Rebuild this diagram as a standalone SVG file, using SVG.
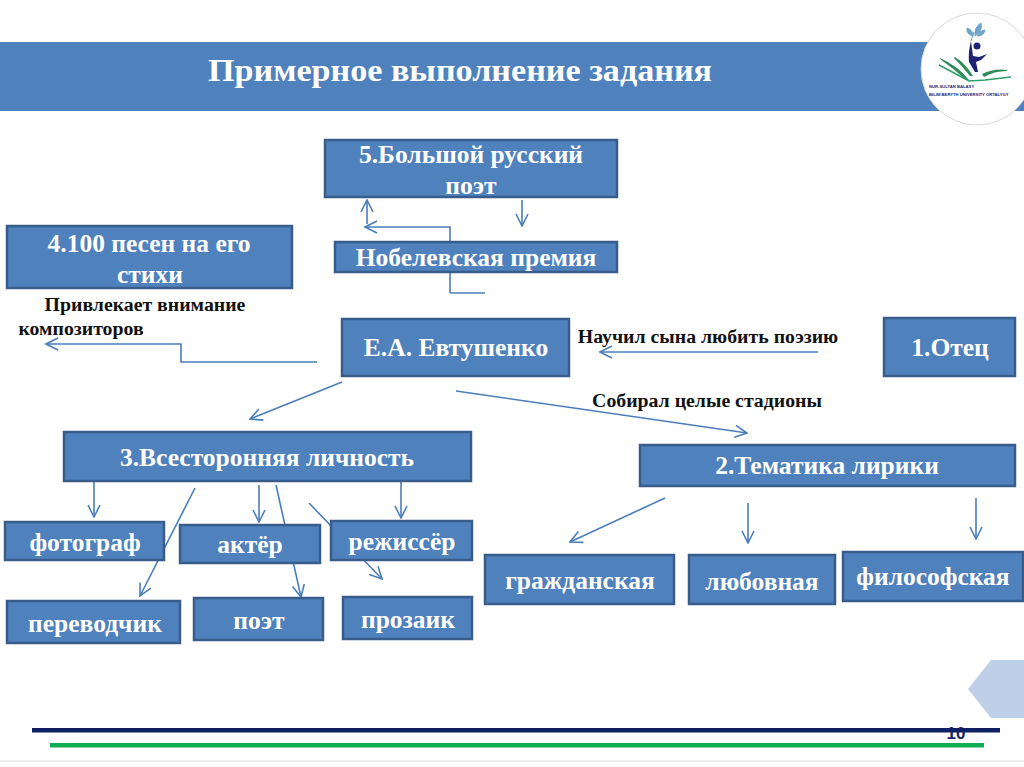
<svg xmlns="http://www.w3.org/2000/svg" width="1024" height="767" viewBox="0 0 1024 767">
<style>
.b{fill:#4f81bd;stroke:#385d8a;stroke-width:2.5}
text{font-family:"Liberation Serif","Times New Roman",serif;font-weight:bold;text-anchor:middle}
.w{fill:#fff;font-size:25.5px}
.k{fill:#111;font-size:19.8px}
.c{fill:none;stroke:#4a7ebb;stroke-width:1.6}
.l{font-family:"Liberation Sans",Arial,sans-serif;font-size:4.2px;fill:#1d2372;text-anchor:start}
</style>
<defs>
<marker id="a" viewBox="0 0 14 14" refX="13" refY="7" markerWidth="14" markerHeight="14" markerUnits="userSpaceOnUse" orient="auto"><path d="M1 1L13 7L1 13" fill="none" stroke="#4a7ebb" stroke-width="1.6"/></marker>
</defs>
<rect width="1024" height="767" fill="#fff"/>
<line x1="0" y1="761" x2="1024" y2="761" stroke="#dcdcdc" stroke-width="1"/>
<g id="header">
<rect x="0" y="42" width="1024" height="69" fill="#4f81bd"/>
<text x="460" y="81" font-size="31" fill="#fff" textLength="504" lengthAdjust="spacingAndGlyphs">Примерное выполнение задания</text>
</g>
<g id="logo">
<circle cx="977" cy="69" r="56" fill="#fff" stroke="#d8d8d8" stroke-width="1"/>
<path d="M971 41L974 32M973 36Q966 34 967 28Q973 30 973 36M975 36Q974 27 981 23Q983 31 975 36M977 36Q980 30 985 30Q984 36 977 36" fill="#6ea6c9" stroke="#6ea6c9" stroke-width="1"/>
<path d="M971 41L973 56L979 57L987 54L981 60L976 62L978 72L975 72L969 62Q968 52 971 41Z" fill="#1d2372"/>
<circle cx="977" cy="46" r="3.5" fill="#1d2372"/>
<path d="M940 58Q958 66 969 80L966 80Q953 68 940 59ZM955 57Q966 64 973 76L970 76Q962 66 954 58ZM982 74Q994 68 1007 70L1007 71Q994 71 984 77Z" fill="#2e8b57"/>
<path d="M939 65L969 81L985 80L1011 77" fill="none" stroke="#2e9b68" stroke-width="1.5"/>
<text class="l" x="929" y="88">NUR-SULTAN BALASY</text>
<text class="l" x="929" y="96">BILIM BERYTH UNIVERSITY ORTALYGY</text>
</g>
<g id="connectors">
<path class="c" d="M367 224V200" marker-end="url(#a)"/>
<path class="c" d="M450 293V227H365" marker-end="url(#a)"/>
<path class="c" d="M450 293H485"/>
<path class="c" d="M522 200V226" marker-end="url(#a)"/>
<path class="c" d="M317 362H181V344H46" marker-end="url(#a)"/>
<path class="c" d="M818 352H600" marker-end="url(#a)"/>
<path class="c" d="M342 382L250 419" marker-end="url(#a)"/>
<path class="c" d="M456 391L747 433" marker-end="url(#a)"/>
<path class="c" d="M94 482V517" marker-end="url(#a)"/>
<path class="c" d="M195 488L140 596" marker-end="url(#a)"/>
<path class="c" d="M259 485V522" marker-end="url(#a)"/>
<path class="c" d="M276 485L301 597" marker-end="url(#a)"/>
<path class="c" d="M309 503L382 579" marker-end="url(#a)"/>
<path class="c" d="M401 482V518" marker-end="url(#a)"/>
<path class="c" d="M665 498L570 542" marker-end="url(#a)"/>
<path class="c" d="M748 503V543" marker-end="url(#a)"/>
<path class="c" d="M976 498V539" marker-end="url(#a)"/>
</g>
<g id="n5"><rect class="b" x="325" y="140" width="292" height="57"/><text class="w" x="471" y="163">5.Большой русский</text><text class="w" x="471" y="194">поэт</text></g>
<g id="nobel"><rect class="b" x="335" y="242" width="282" height="30"/><text class="w" x="476" y="266">Нобелевская премия</text></g>
<g id="n4"><rect class="b" x="7" y="226" width="285" height="62"/><text class="w" x="149" y="252">4.100 песен на его</text><text class="w" x="150" y="283">стихи</text></g>
<g id="evt"><rect class="b" x="342" y="319" width="227" height="57"/><text class="w" x="456" y="356">Е.А. Евтушенко</text></g>
<g id="n1"><rect class="b" x="884" y="318" width="131" height="58"/><text class="w" x="950" y="356">1.Отец</text></g>
<g id="n3"><rect class="b" x="64" y="432" width="407" height="49"/><text class="w" x="267" y="466">3.Всесторонняя личность</text></g>
<g id="n2"><rect class="b" x="640" y="445" width="375" height="41"/><text class="w" x="827" y="474">2.Тематика лирики</text></g>
<g id="photo"><rect class="b" x="5" y="522" width="159" height="38"/><text class="w" x="85" y="551">фотограф</text></g>
<g id="actor"><rect class="b" x="180" y="525" width="140" height="38"/><text class="w" x="250" y="553">актёр</text></g>
<g id="director"><rect class="b" x="331" y="521" width="141" height="39"/><text class="w" x="402" y="550">режиссёр</text></g>
<g id="trans"><rect class="b" x="7" y="601" width="173" height="42"/><text class="w" x="95" y="632">переводчик</text></g>
<g id="poet"><rect class="b" x="194" y="598" width="129" height="42"/><text class="w" x="259" y="629">поэт</text></g>
<g id="prose"><rect class="b" x="343" y="597" width="129" height="42"/><text class="w" x="408" y="628">прозаик</text></g>
<g id="civ"><rect class="b" x="485" y="555" width="189" height="49"/><text class="w" x="580" y="589">гражданская</text></g>
<g id="love"><rect class="b" x="689" y="555" width="146" height="49"/><text class="w" x="762" y="590">любовная</text></g>
<g id="phil"><rect class="b" x="843" y="552" width="180" height="49"/><text class="w" x="933" y="585">философская</text></g>
<g id="labels">
<text class="k" x="145" y="311">Привлекает внимание</text>
<text class="k" x="81" y="335">композиторов</text>
<text class="k" x="708" y="343">Научил сына любить поэзию</text>
<text class="k" x="707" y="407">Собирал целые стадионы</text>
</g>
<g id="footer">
<path d="M1024 660H991L968 689L991 718H1024Z" fill="#bdd0e7"/>
<text x="956" y="739" font-size="17" fill="#17275f" style="font-family:'Liberation Sans',sans-serif">10</text>
<rect x="32" y="728" width="968" height="4.500" fill="#0f1f63"/>
<rect x="50" y="743" width="934" height="4.500" fill="#12ad52"/>
</g>
</svg>
